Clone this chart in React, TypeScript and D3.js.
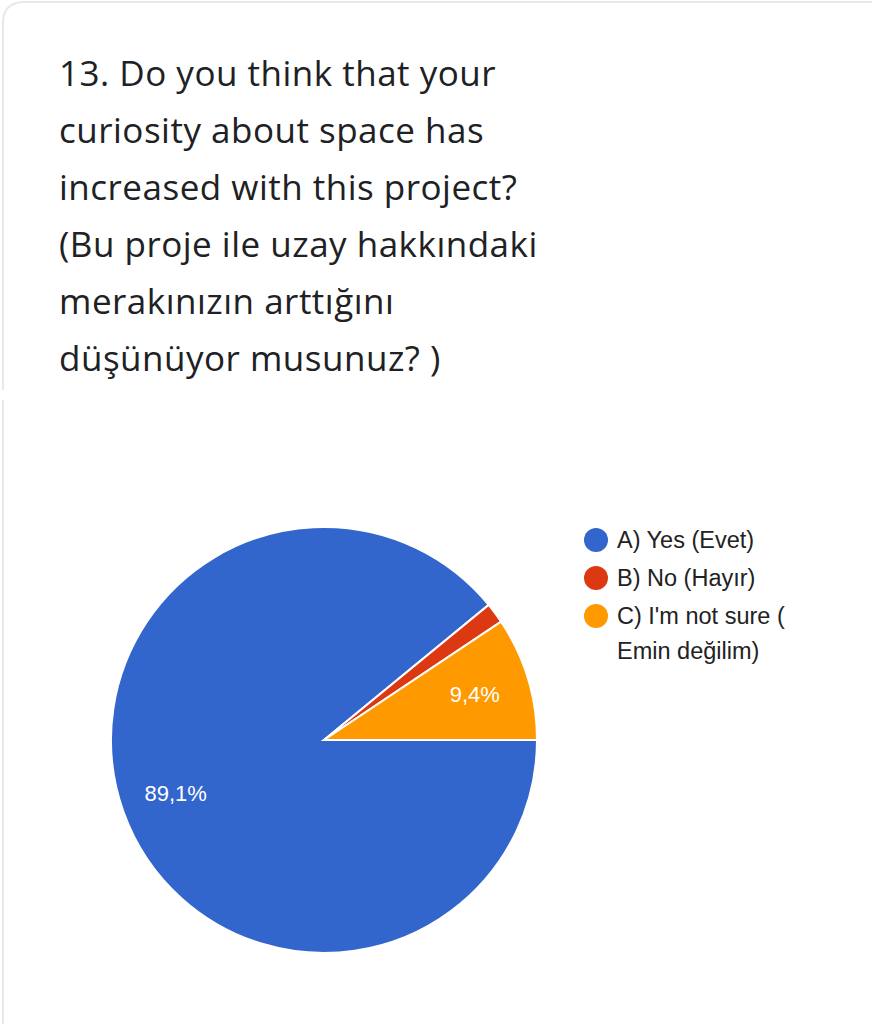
import React from 'react';
import * as d3 from 'd3';

const titleLines = [
    '13. Do you think that your',
    'curiosity about space has',
    'increased with this project?',
    '(Bu proje ile uzay hakkındaki',
    'merakınızın arttığını',
    'düşünüyor musunuz? )'
];

const answers = ['A) Yes (Evet)', 'B) No (Hayır)', "C) I'm not sure ( Emin değilim)"];
const counts = [57, 1, 6];
const colors = ['#3366cc', '#dc3912', '#ff9900'];

// legend text wraps like the form does
const legendLines = [['A) Yes (Evet)'], ['B) No (Hayır)'], ["C) I'm not sure (", 'Emin değilim)']];

const W = 872;
const H = 1024;

export default function App() {
    const cx = 324;
    const cy = 740;
    const r = 213;

    const total = d3.sum(counts);
    const pie = d3.pie<number>()
        .sort(null)
        .startAngle(Math.PI / 2)
        .endAngle(Math.PI / 2 + 2 * Math.PI);
    const arcs = pie(counts);

    const arc = d3.arc<d3.PieArcDatum<number>>().innerRadius(0).outerRadius(r);
    const labelArc = d3.arc<d3.PieArcDatum<number>>().innerRadius(r * 0.74).outerRadius(r * 0.74);

    const fmt = (v: number) => (Math.round((v / total) * 1000) / 10).toFixed(1).replace('.', ',') + '%';

    const legendY = d3.scalePoint<string>().domain(answers).range([540, 616]);

    return (
        <svg
            width={W}
            height={H}
            viewBox={`0 0 ${W} ${H}`}
            style={{ position: 'absolute', left: 0, top: 0, background: '#fff' }}
        >
            {/* card edges */}
            <path d="M3,390 L3,22 Q3,4 22,2 L872,2" fill="none" stroke="#e8e8e8" strokeWidth={2} />
            <path d="M3,400 L3,1024" fill="none" stroke="#e8e8e8" strokeWidth={2} />

            {titleLines.map((t, i) => (
                <text
                    key={i}
                    x={59}
                    y={86 + i * 57}
                    fontFamily="'Open Sans', Roboto, sans-serif"
                    fontSize={35}
                    letterSpacing={0.5}
                    fill="#202124"
                >
                    {t}
                </text>
            ))}

            <g transform={`translate(${cx}, ${cy})`}>
                {arcs.map((a, i) => (
                    <path key={i} d={arc(a) ?? ''} fill={colors[i]} stroke="#fff" strokeWidth={2} />
                ))}
                {arcs.map((a, i) => {
                    if (a.data / total < 0.05) return null;
                    const [lx, ly] = labelArc.centroid(a);
                    return (
                        <text
                            key={i}
                            x={lx}
                            y={ly}
                            textAnchor="middle"
                            dominantBaseline="central"
                            fontFamily="Arial, 'Liberation Sans', sans-serif"
                            fontSize={22}
                            fill="#fff"
                        >
                            {fmt(a.data)}
                        </text>
                    );
                })}
            </g>

            {answers.map((ans, i) => (
                <g key={ans}>
                    <circle cx={596} cy={legendY(ans)} r={12} fill={colors[i]} />
                    {legendLines[i].map((line, j) => (
                        <text
                            key={j}
                            x={617}
                            y={(legendY(ans) ?? 0) + 8 + j * 35}
                            fontFamily="Arial, 'Liberation Sans', sans-serif"
                            fontSize={23.5}
                            fill="#222"
                        >
                            {line}
                        </text>
                    ))}
                </g>
            ))}
        </svg>
    );
}
